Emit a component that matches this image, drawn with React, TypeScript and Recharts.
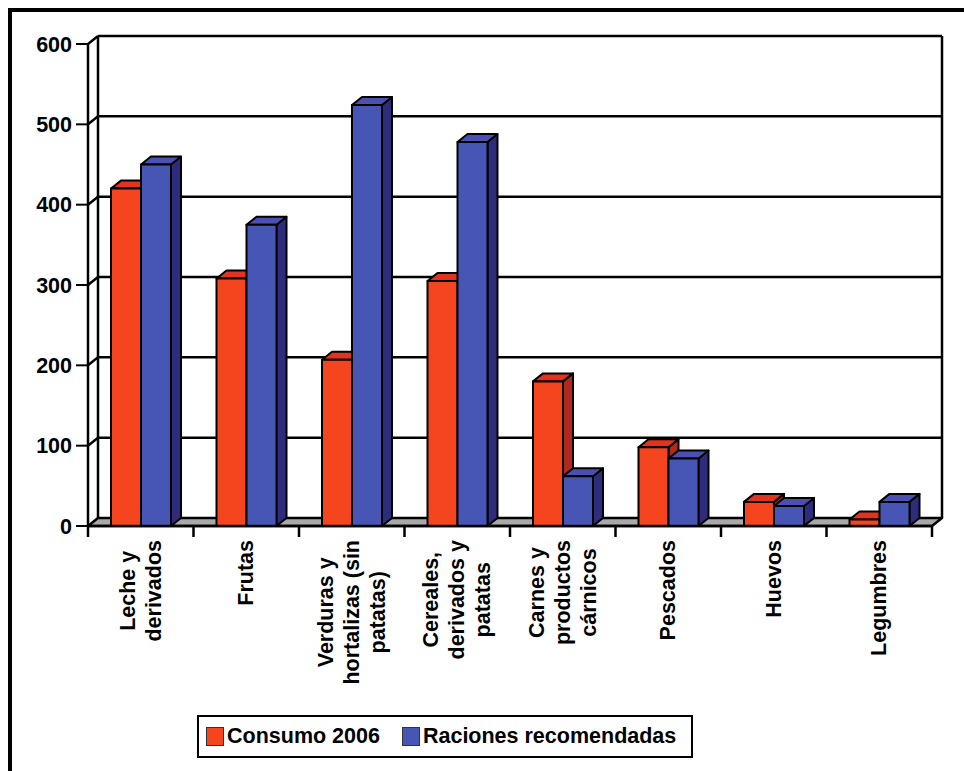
import React from 'react';
import { BarChart, Bar, XAxis, YAxis, CartesianGrid } from 'recharts';

// Categories (x axis), one entry per group of bars
const categories = [
  'Leche y derivados',
  'Frutas',
  'Verduras y hortalizas (sin patatas)',
  'Cereales, derivados y patatas',
  'Carnes y productos cárnicos',
  'Pescados',
  'Huevos',
  'Legumbres',
];

// Tick label lines, as they wrap under each group
const categoryLines = [
  ['Leche y', 'derivados'],
  ['Frutas'],
  ['Verduras y', 'hortalizas (sin', 'patatas)'],
  ['Cereales,', 'derivados y', 'patatas'],
  ['Carnes y', 'productos', 'cárnicos'],
  ['Pescados'],
  ['Huevos'],
  ['Legumbres'],
];

const consumo2006 = [420, 308, 207, 305, 180, 98, 30, 8];
const racionesRecomendadas = [450, 375, 524, 478, 62, 84, 25, 30];

const yTicks = [0, 100, 200, 300, 400, 500, 600];

const data = categories.map((name, i) => ({
  name,
  consumo: consumo2006[i],
  raciones: racionesRecomendadas[i],
}));

const FONT = '"Liberation Sans", Arial, Helvetica, sans-serif';
const FONT_SIZE = 21.5;
const DX = 10; // depth offset to the right
const DY = 8; // depth offset upwards

const RED = { front: '#F4451F', top: '#E2331F', side: '#B3281C' };
const BLUE = { front: '#4756B5', top: '#4C50B3', side: '#2E2C7C' };

let measureCtx: CanvasRenderingContext2D | null = null;
function textWidth(s: string) {
  if (!measureCtx) {
    const c = document.createElement('canvas');
    measureCtx = c.getContext('2d');
  }
  if (!measureCtx) return s.length * 11;
  measureCtx.font = `bold ${FONT_SIZE}px ${FONT}`;
  return measureCtx.measureText(s).width;
}

function Box3D(props: any) {
  const { x, y, width, height, colors } = props;
  if (width == null || height == null || isNaN(y)) return null;
  const x2 = x + width;
  const yb = y + height;
  return (
    <g stroke="#000" strokeWidth={2} strokeLinejoin="round">
      <polygon points={`${x2},${y} ${x2 + DX},${y - DY} ${x2 + DX},${yb - DY} ${x2},${yb}`} fill={colors.side} />
      <polygon points={`${x},${y} ${x + DX},${y - DY} ${x2 + DX},${y - DY} ${x2},${y}`} fill={colors.top} />
      <rect x={x} y={y} width={width} height={height} fill={colors.front} />
    </g>
  );
}

// Back wall gridline plus the short diagonal on the side wall; the 0 line becomes the floor
function WallLine(props: any) {
  const { x1, x2, y1, x, y, width, height } = props;
  const px = x ?? x1;
  const pw = width ?? x2 - x1;
  const bottom = y + height;
  const isFloor = Math.abs(y1 - bottom) < 0.5;
  const isTop = Math.abs(y1 - y) < 0.5;
  return (
    <g stroke="#000" strokeWidth={2.5} fill="none">
      {isFloor ? (
        <polygon
          points={`${px},${y1} ${px + DX},${y1 - DY} ${px + pw + DX},${y1 - DY} ${px + pw},${y1}`}
          fill="#A9A9A9"
          strokeLinejoin="round"
        />
      ) : (
        <>
          <line x1={px + DX} y1={y1 - DY} x2={px + pw + DX} y2={y1 - DY} />
          <line x1={px} y1={y1} x2={px + DX} y2={y1 - DY} />
        </>
      )}
      {isTop && (
        <>
          <line x1={px + DX} y1={y - DY} x2={px + DX} y2={bottom - DY} />
          <line x1={px + pw + DX} y1={y - DY} x2={px + pw + DX} y2={bottom - DY} />
        </>
      )}
    </g>
  );
}

function CategoryTick(props: any) {
  const { x, y, payload, index } = props;
  const lines: string[] = categoryLines[index] ?? [String(payload.value)];
  const half = payload?.offset ?? 52.75;
  const axisY = y - 14;
  const maxW = Math.max(...lines.map(textWidth));
  const cy = y + maxW / 2;
  const lh = 26;
  return (
    <g>
      <line x1={x - half} y1={axisY} x2={x - half} y2={axisY + 11} stroke="#000" strokeWidth={2.5} />
      {index === categories.length - 1 && (
        <line x1={x + half} y1={axisY} x2={x + half} y2={axisY + 11} stroke="#000" strokeWidth={2.5} />
      )}
      {lines.map((ln, i) => (
        <text
          key={i}
          transform={`translate(${x + (i - (lines.length - 1) / 2) * lh}, ${cy}) rotate(-90)`}
          textAnchor="middle"
          dominantBaseline="central"
          fontFamily={FONT}
          fontWeight="bold"
          fontSize={FONT_SIZE}
          fill="#000"
        >
          {ln}
        </text>
      ))}
    </g>
  );
}

function LegendItem({ color, label }: { color: string; label: string }) {
  return (
    <div style={{ display: 'flex', alignItems: 'center', marginRight: 22, flexShrink: 0, whiteSpace: 'nowrap' }}>
      <span
        style={{
          display: 'inline-block',
          width: 16,
          height: 17,
          background: color,
          border: '1px solid #333',
          marginRight: 3,
        }}
      />
      <span>{label}</span>
    </div>
  );
}

export default function App() {
  return (
    <div style={{ position: 'relative', width: 964, height: 771, background: '#fff', overflow: 'hidden' }}>
      <style>{'body{margin:0;background:#fff}'}</style>
      <div
        style={{
          position: 'absolute',
          left: 8,
          top: 8,
          width: 964,
          height: 771,
          borderTop: '4px solid #000',
          borderLeft: '4px solid #000',
          boxSizing: 'border-box',
        }}
      />
      <div style={{ position: 'absolute', left: 0, top: 0 }}>
        <BarChart
          width={964}
          height={771}
          data={data}
          margin={{ top: 44, right: 32, bottom: 45, left: 8 }}
          barGap={0}
          barSize={30}
        >
          <CartesianGrid vertical={false} horizontal={(p: any) => <WallLine {...p} />} />
          <XAxis
            dataKey="name"
            interval={0}
            height={200}
            tickLine={false}
            tickSize={11}
            tickMargin={3}
            axisLine={{ stroke: '#000', strokeWidth: 2.5 }}
            tick={<CategoryTick />}
          />
          <YAxis
            width={80}
            domain={[0, 600]}
            ticks={yTicks}
            interval={0}
            tickSize={12}
            tickMargin={4}
            axisLine={{ stroke: '#000', strokeWidth: 2.5 }}
            tickLine={{ stroke: '#000', strokeWidth: 2 }}
            tick={{ fill: '#000', fontFamily: FONT, fontWeight: 'bold', fontSize: FONT_SIZE }}
          />
          <Bar dataKey="consumo" name="Consumo 2006" isAnimationActive={false} shape={(p: any) => <Box3D {...p} colors={RED} />} />
          <Bar
            dataKey="raciones"
            name="Raciones recomendadas"
            isAnimationActive={false}
            shape={(p: any) => <Box3D {...p} colors={BLUE} />}
          />
        </BarChart>
      </div>
      <div
        style={{
          position: 'absolute',
          left: 197,
          top: 715,
          width: 496,
          height: 43,
          border: '2.5px solid #000',
          boxSizing: 'border-box',
          display: 'flex',
          alignItems: 'center',
          paddingLeft: 7,
          fontFamily: FONT,
          fontWeight: 'bold',
          fontSize: FONT_SIZE,
          color: '#000',
          whiteSpace: 'nowrap',
        }}
      >
        <LegendItem color={RED.front} label="Consumo 2006" />
        <LegendItem color={BLUE.front} label="Raciones recomendadas" />
      </div>
    </div>
  );
}
